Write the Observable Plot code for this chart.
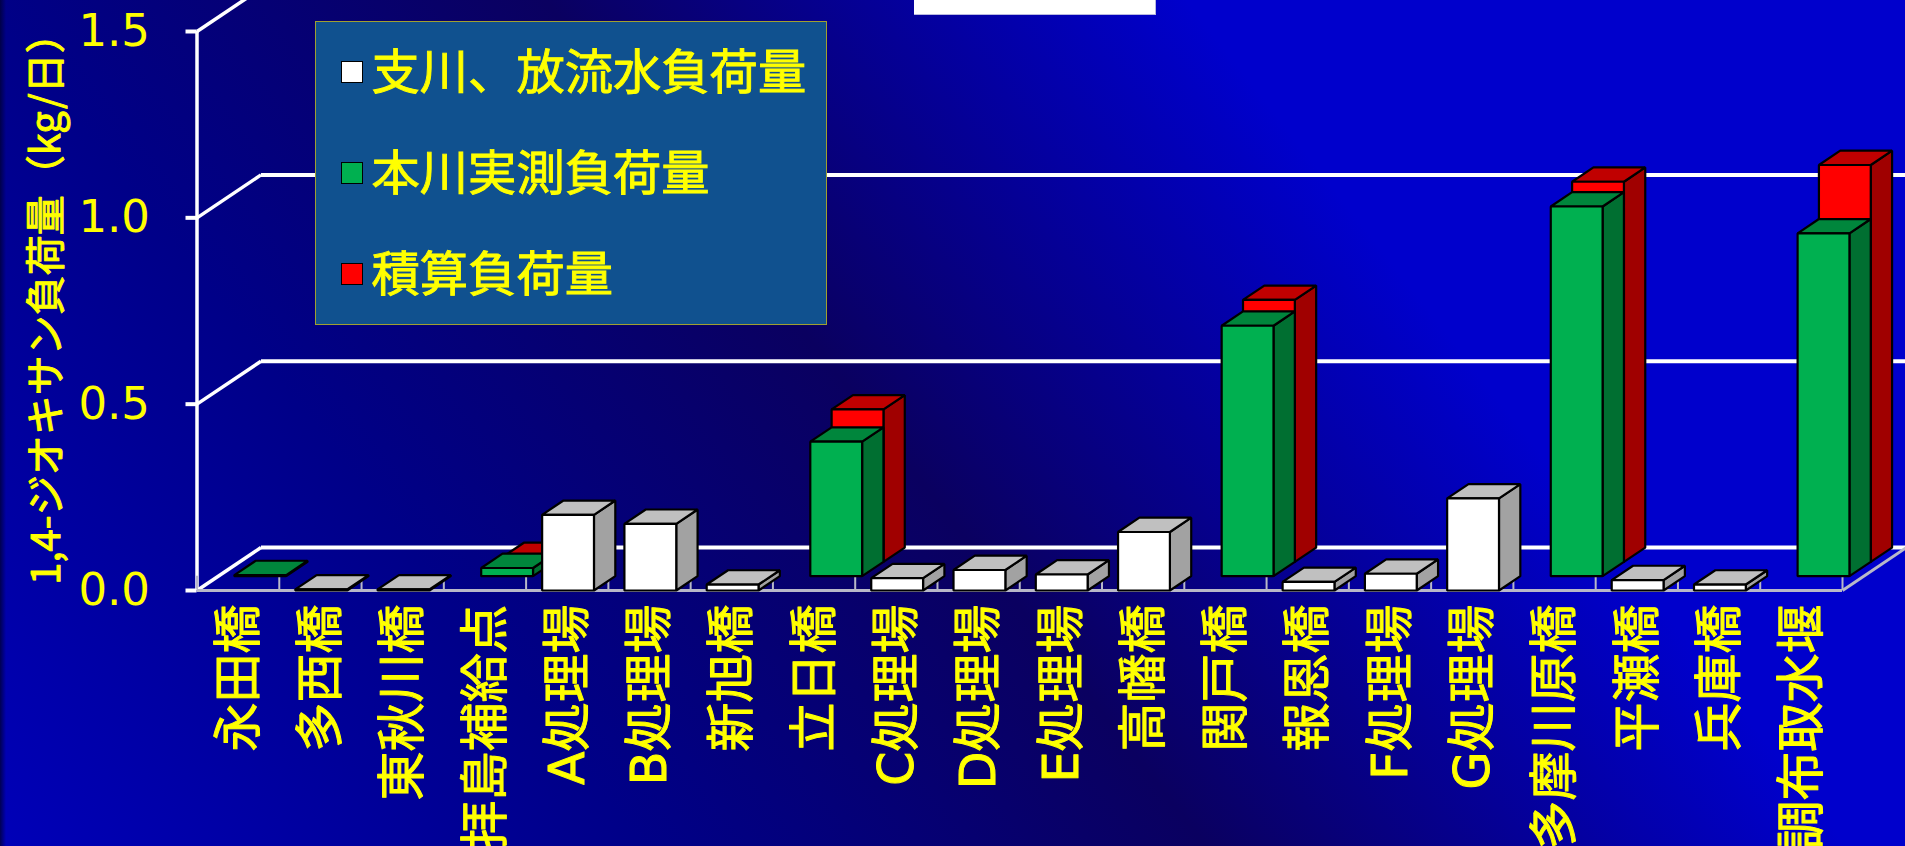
<!DOCTYPE html>
<html lang="ja">
<head>
<meta charset="utf-8">
<script src="https://cdn.jsdelivr.net/npm/d3@7"></script>
<script src="https://cdn.jsdelivr.net/npm/@observablehq/plot@0.6"></script>
<style>
  html, body { margin: 0; padding: 0; overflow: hidden; }
  #stage {
    position: relative; width: 1905px; height: 846px; overflow: hidden;
    background: linear-gradient(52deg, #0000b8 0%, #000088 25%, #0a0060 47%, #0000cc 72%, #0000cc 100%);
    font-family: "Noto Sans CJK JP", sans-serif;
  }
  #edge { position: absolute; left: 0; top: 0; width: 6px; height: 846px; background: linear-gradient(to right, rgba(0,0,50,.75), rgba(0,0,50,0)); }
  #titlebox {
    position: absolute; left: 914px; top: 0; width: 241px; height: 14px; background: #fff;
    border-right: 1px solid #b8b8e0; border-bottom: 1px solid #b8b8e0;
  }
  #legend {
    position: absolute; left: 314.5px; top: 21px; width: 510px; height: 302px;
    background: #10518f; border: 1px solid #a0a030; box-sizing: content-box;
  }
  #legend .row { position: absolute; left: 25px; display: flex; align-items: center; height: 48px; }
  #legend .swatch { width: 20px; height: 20px; border: 1px solid #000; margin-right: 9px; }
  #legend .name { position: relative; top: -4px; color: #ff0; font-size: 48.3px; line-height: 48px; -webkit-text-stroke: 0.9px #ff0; white-space: nowrap; }
</style>
</head>
<body>
<div id="stage"></div>
<script>
// Sampling points along the river, in display order
const categories = ["永田橋", "多西橋", "東秋川橋", "拝島補給点", "A処理場", "B処理場", "新旭橋", "立日橋", "C処理場", "D処理場",
  "E処理場", "高幡橋", "関戸橋", "報恩橋", "F処理場", "G処理場", "多摩川原橋", "平瀬橋", "兵庫橋", "調布取水堰"];

// 1,4-dioxane load in kg/day; null means the series has no bar at that point
const tributaryLoad = [null, 0.003, 0.003, null, 0.203, 0.179, 0.016, null, 0.033, 0.055, 0.043, 0.157, null, 0.023, 0.045, 0.247, null, 0.028, 0.016, null];
const measuredLoad = [0.003, null, null, 0.022, null, null, null, 0.361, null, null, null, null, 0.672, null, null, null, 0.992, null, null, 0.92];
const integratedLoad = [null, null, null, 0.013, null, null, null, 0.409, null, null, null, null, 0.703, null, null, null, 1.02, null, null, 1.065];

const seriesNames = ["支川、放流水負荷量", "本川実測負荷量", "積算負荷量"];
const yTicks = [0, 0.5, 1, 1.5];
const yLabel = "1,4-ジオキサン負荷量（kg/日）";

// Depth of one series row, in units of the x and y scales, and the bar width
const rowDepthX = 0.2592;
const rowDepthY = 0.0384;
const barWidth = 0.63;
const rows = 3;

const series = [
  {values: tributaryLoad, row: 0, front: "#ffffff", top: "#c0c0c0", side: "#a2a2a2"},
  {values: measuredLoad, row: 1, front: "#00b050", top: "#00863c", side: "#006f31"},
  {values: integratedLoad, row: 2, front: "#ff0000", top: "#c00000", side: "#a00000"}
];

// Oblique-projection outlines of one face for every bar in a series
function faces(s, face) {
  const out = [];
  s.values.forEach((v, i) => {
    if (v == null) return;
    const x0 = i + 0.51 - barWidth / 2 + s.row * rowDepthX;
    const x1 = x0 + barWidth;
    const b = s.row * rowDepthY;
    const t = b + v;
    const corners = {
      front: [[x0, b], [x1, b], [x1, t], [x0, t]],
      top: [[x0, t], [x1, t], [x1 + rowDepthX, t + rowDepthY], [x0 + rowDepthX, t + rowDepthY]],
      side: [[x1, b], [x1 + rowDepthX, b + rowDepthY], [x1 + rowDepthX, t + rowDepthY], [x1, t]]
    }[face];
    corners.forEach(([x, y]) => out.push({x, y, id: i}));
  });
  return out;
}

const backX = rows * rowDepthX;
const backY = rows * rowDepthY;
const xMax = categories.length;

// Back-to-front: the rear series first so nearer bars cover it
const barMarks = [...series].reverse().flatMap(s => ["side", "top", "front"].map(face =>
  Plot.line(faces(s, face), {
    x: "x", y: "y", z: "id", curve: "linear-closed",
    fill: s[face], stroke: "#000", strokeWidth: 2.2, strokeLinejoin: "miter"
  })
));

const labelFont = '"DejaVu Sans", "Noto Sans CJK JP", sans-serif';

const chart = Plot.plot({
  width: 1905,
  height: 846,
  marginLeft: 196.5,
  marginRight: 63,
  marginTop: 31,
  marginBottom: 256,
  style: {background: "transparent", fontFamily: labelFont, overflow: "hidden"},
  x: {type: "linear", domain: [0, xMax], axis: null},
  y: {domain: [0, 1.5], axis: null},
  marks: [
    // Back wall gridlines and their returns along the left wall
    Plot.link(yTicks, {x1: backX, y1: d => d + backY, x2: xMax + backX, y2: d => d + backY, stroke: "#fff", strokeWidth: 4}),
    Plot.link(yTicks, {x1: 0, y1: d => d, x2: backX, y2: d => d + backY, stroke: "#fff", strokeWidth: 3.5}),
    Plot.ruleX([0], {y1: 0, y2: 1.5, stroke: "#fff", strokeWidth: 3.5}),
    // Floor edges and the short ticks between categories
    Plot.ruleX(d3.range(xMax + 1), {y1: 0, y2: rowDepthY, stroke: "#b8b8c8", strokeWidth: 2}),
    Plot.ruleY([0], {x1: 0, x2: xMax, stroke: "#b8b8c8", strokeWidth: 3}),
    Plot.link([0], {x1: xMax, y1: 0, x2: xMax + backX, y2: backY, stroke: "#b8b8c8", strokeWidth: 3}),
    ...barMarks,
    Plot.axisY({
      ticks: yTicks, tickFormat: d3.format(".1f"), tickSize: 11, tickPadding: 36,
      stroke: "#fff", strokeWidth: 4, fill: "#ff0", fontSize: 45, fontFamily: '"DejaVu Sans", sans-serif', label: null
    }),
    Plot.text([yLabel], {
      frameAnchor: "left", dx: -150, dy: -12, rotate: -90, textAnchor: "middle",
      fill: "#ff0", fontSize: 40, stroke: "#ff0", strokeWidth: 1, fontFamily: '"Noto Sans CJK JP", sans-serif'
    }),
    Plot.text(categories, {
      x: (d, i) => i + 0.5, y: 0, dx: 1, dy: 14, rotate: -90, textAnchor: "end",
      fill: "#ff0", fontSize: 49, stroke: "#ff0", strokeWidth: 1
    })
  ]
});

const stage = document.getElementById("stage");
stage.append(chart);

const edge = document.createElement("div");
edge.id = "edge";
stage.append(edge);

const titlebox = document.createElement("div");
titlebox.id = "titlebox";
stage.append(titlebox);

// Legend panel drawn over the chart's upper left
const legend = document.createElement("div");
legend.id = "legend";
const rowTops = [25.5, 126.5, 227.5];
seriesNames.forEach((name, i) => {
  const row = document.createElement("div");
  row.className = "row";
  row.style.top = rowTops[i] + "px";
  const swatch = document.createElement("div");
  swatch.className = "swatch";
  swatch.style.background = series[i].front;
  const label = document.createElement("div");
  label.className = "name";
  label.textContent = name;
  row.append(swatch, label);
  legend.append(row);
});
stage.append(legend);
</script>
</body>
</html>
